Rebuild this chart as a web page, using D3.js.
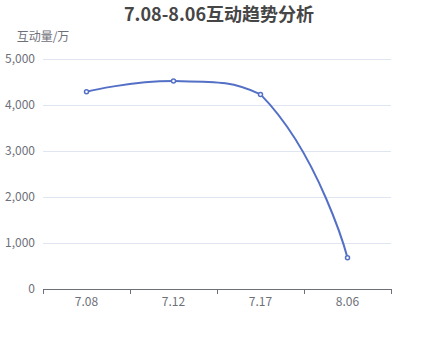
<!DOCTYPE html>
<html><head><meta charset="utf-8">
<script src="https://cdn.jsdelivr.net/npm/d3@7"></script>
<style>body{margin:0;background:#fff}svg{display:block}</style>
</head><body><svg id="c" width="435" height="360"></svg>
<script>
const categories = ["7.08", "7.12", "7.17", "8.06"];
const values = [4290, 4520, 4230, 680];
const yTicks = [0, 1000, 2000, 3000, 4000, 5000];
const title = "7.08-8.06互动趋势分析";
const yName = "互动量/万";

const svg = d3.select("#c");
const font = "'Microsoft YaHei','Noto Sans CJK SC',sans-serif";
const L = 43, R = 391, T = 59, B = 289;
const x = d3.scaleBand().domain(categories).range([L, R]);
const y = d3.scaleLinear().domain([0, 5000]).range([B, T]);

svg.append("text").attr("x", 219).attr("y", 21).attr("text-anchor", "middle")
  .attr("font-family", font).attr("font-size", 18).attr("font-weight", "bold")
  .attr("fill", "#464646").text(title);

// grid
svg.append("g").selectAll("line").data(yTicks.filter(d => d > 0)).join("line")
  .attr("x1", L).attr("x2", R).attr("y1", d => y(d) + 0.5).attr("y2", d => y(d) + 0.5)
  .attr("stroke", "#E0E6F1").attr("stroke-width", 1);

// y labels
svg.append("g").selectAll("text").data(yTicks).join("text")
  .attr("x", L - 8).attr("y", d => y(d)).attr("dy", "0.35em").attr("text-anchor", "end")
  .attr("font-family", font).attr("font-size", 12).attr("fill", "#6E7079")
  .text(d => d3.format(",")(d));

svg.append("text").attr("x", L).attr("y", 41).attr("text-anchor", "middle")
  .attr("font-family", font).attr("font-size", 12).attr("fill", "#6E7079").text(yName);

// x axis
svg.append("line").attr("x1", L).attr("x2", R).attr("y1", B + 0.5).attr("y2", B + 0.5)
  .attr("stroke", "#6E7079");
const edges = categories.map(c => x(c)).concat([x(categories[categories.length - 1]) + x.bandwidth()]);
svg.append("g").selectAll("line").data(edges).join("line")
  .attr("x1", d => Math.round(d) + 0.5).attr("x2", d => Math.round(d) + 0.5)
  .attr("y1", B).attr("y2", B + 5).attr("stroke", "#6E7079");
svg.append("g").selectAll("text").data(categories).join("text")
  .attr("x", d => x(d) + x.bandwidth() / 2).attr("y", B + 8).attr("dy", "0.71em")
  .attr("text-anchor", "middle").attr("font-family", font).attr("font-size", 12)
  .attr("fill", "#6E7079").text(d => d);

// smooth line (echarts v4-like, with bbox constraint)
const pts = categories.map((c, i) => [x(c) + x.bandwidth() / 2, y(values[i])]);
const smooth = 0.5;
const minP = [d3.min(pts, d => d[0]), d3.min(pts, d => d[1])];
const maxP = [d3.max(pts, d => d[0]), d3.max(pts, d => d[1])];
const clamp = c => [Math.max(minP[0], Math.min(maxP[0], c[0])), Math.max(minP[1], Math.min(maxP[1], c[1]))];
const p = d3.path();
p.moveTo(pts[0][0], pts[0][1]);
let cp0 = pts[0].slice();
for (let i = 1; i < pts.length; i++) {
  const [px, py] = pts[i];
  let cp1, v = [0, 0], ratio = 0.5;
  if (i === pts.length - 1) { cp1 = [px, py]; }
  else {
    const prev = pts[i - 1], next = pts[i + 1];
    v = [next[0] - prev[0], next[1] - prev[1]];
    const d0 = Math.hypot(px - prev[0], py - prev[1]);
    const d1 = Math.hypot(next[0] - px, next[1] - py);
    ratio = d1 / (d0 + d1);
    cp1 = [px - v[0] * smooth * (1 - ratio), py - v[1] * smooth * (1 - ratio)];
  }
  cp0 = clamp(cp0); cp1 = clamp(cp1);
  p.bezierCurveTo(cp0[0], cp0[1], cp1[0], cp1[1], px, py);
  cp0 = [px + v[0] * smooth * ratio, py + v[1] * smooth * ratio];
}
svg.append("path").attr("d", p.toString()).attr("fill", "none")
  .attr("stroke", "#5470c6").attr("stroke-width", 2);

svg.append("g").selectAll("circle").data(pts).join("circle")
  .attr("cx", d => d[0]).attr("cy", d => d[1]).attr("r", 2)
  .attr("fill", "#fff").attr("stroke", "#5470c6").attr("stroke-width", 1.5);
</script></body></html>
